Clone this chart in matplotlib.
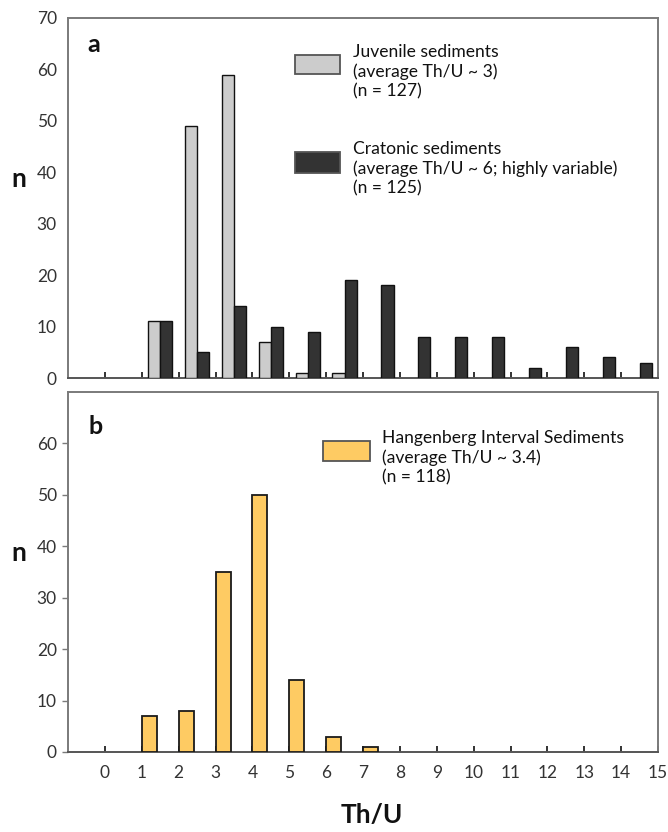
import matplotlib
matplotlib.use("Agg")
import matplotlib.pyplot as plt
from matplotlib.patches import Rectangle
import numpy as np

plt.rcParams['font.family'] = ['Lato', 'DejaVu Sans']

# ---- data ----
bins = list(range(0, 15))
juvenile = [0, 11, 49, 59, 7, 1, 1, 0, 0, 0, 0, 0, 0, 0, 0]
cratonic = [0, 11, 5, 14, 10, 9, 19, 18, 8, 8, 8, 2, 6, 4, 3]
hangenberg = [0, 7, 8, 35, 50, 14, 3, 1, 0, 0, 0, 0, 0, 0, 0]
xtick_labels = [str(i) for i in range(0, 16)]
yticks_a = [0, 10, 20, 30, 40, 50, 60, 70]
yticks_b = [0, 10, 20, 30, 40, 50, 60]

legend_a1 = "Juvenile sediments\n(average Th/U ~ 3)\n(n = 127)"
legend_a2 = "Cratonic sediments\n(average Th/U ~ 6; highly variable)\n(n = 125)"
legend_b = "Hangenberg Interval Sediments\n(average Th/U ~ 3.4)\n(n = 118)"

# ---- styling ----
W, H = 668, 832
fig = plt.figure(figsize=(W / 100, H / 100), dpi=100)

def fx(px):
    return px / W

def fy(py):
    return 1 - py / H

L, R = 68, 658
ax_a = fig.add_axes([fx(L), fy(378), fx(R) - fx(L), fy(18) - fy(378)])
ax_b = fig.add_axes([fx(L), fy(752), fx(R) - fx(L), fy(392) - fy(752)])

light = '#cccccc'
dark = '#333333'
yellow = '#fecb63'
spine_c = '#7a7a7a'
text_c = '#333333'

xa = np.array(bins, dtype=float)
ja = np.array(juvenile)
ca = np.array(cratonic)
ha = np.array(hangenberg)

mj = ja > 0
ax_a.bar(xa[mj] + 0.17, ja[mj], width=0.33, align='edge', color=light,
         edgecolor='#111111', linewidth=1.0, zorder=3)
mc = ca > 0
ax_a.bar(xa[mc] + 0.50, ca[mc], width=0.33, align='edge', color=dark,
         edgecolor='#111111', linewidth=1.0, zorder=3)
mh = ha > 0
ax_b.bar(xa[mh], ha[mh], width=0.41, align='edge', color=yellow,
         edgecolor='#1a1a1a', linewidth=1.3, zorder=3)

for ax, yt in ((ax_a, yticks_a), (ax_b, yticks_b)):
    ax.set_xlim(-1, 15)
    ax.set_ylim(0, 70)
    ax.set_xticks(range(0, 16))
    ax.set_yticks(yt)
    for s in ax.spines.values():
        s.set_color(spine_c)
        s.set_linewidth(1.4)
    ax.spines['bottom'].set_color('#555555')
    ax.tick_params(axis='x', direction='in', length=4, width=1.2, color='#111111',
                   labelsize=12.5, labelcolor=text_c, pad=9)
    ax.tick_params(axis='y', labelsize=12.5, labelcolor=text_c)
    ax.set_ylabel('n', fontsize=19, fontweight='bold', rotation=0,
                  labelpad=0, color='#111111')

ax_a.tick_params(axis='x', labelbottom=False)
ax_a.tick_params(axis='y', length=0, pad=8)
ax_b.tick_params(axis='y', length=4, width=1.0, color=spine_c, direction='out', pad=4)
ax_b.set_xticklabels(xtick_labels)

ax_a.yaxis.set_label_coords(-0.083, 0.52)
ax_b.yaxis.set_label_coords(-0.083, 0.52)

# panel letters
fig.text(fx(87), fy(44), 'a', fontsize=18, fontweight='bold', color='#111111',
         ha='left', va='center')
fig.text(fx(88), fy(427), 'b', fontsize=18, fontweight='bold', color='#111111',
         ha='left', va='center')

# legends (manual)
def legend_item(x0, y0, w, h, fc, tx, ty, txt):
    fig.add_artist(Rectangle((fx(x0), fy(y0 + h)), fx(w), (h / H), facecolor=fc,
                             edgecolor='#555555', linewidth=1.3,
                             transform=fig.transFigure))
    fig.text(fx(tx), fy(ty), txt, fontsize=12.6, color='#111111', ha='left',
             va='top', linespacing=1.25)

legend_item(295, 55, 45, 19, light, 353, 44, legend_a1)
legend_item(295, 152, 45, 21, dark, 353, 141, legend_a2)
legend_item(323, 441, 47, 20, yellow, 382, 430, legend_b)

# x label
fig.text(fx(372), fy(815), 'Th/U', fontsize=19, fontweight='bold', color='#111111',
         ha='center', va='center')

fig.savefig('out.png', dpi=100)
